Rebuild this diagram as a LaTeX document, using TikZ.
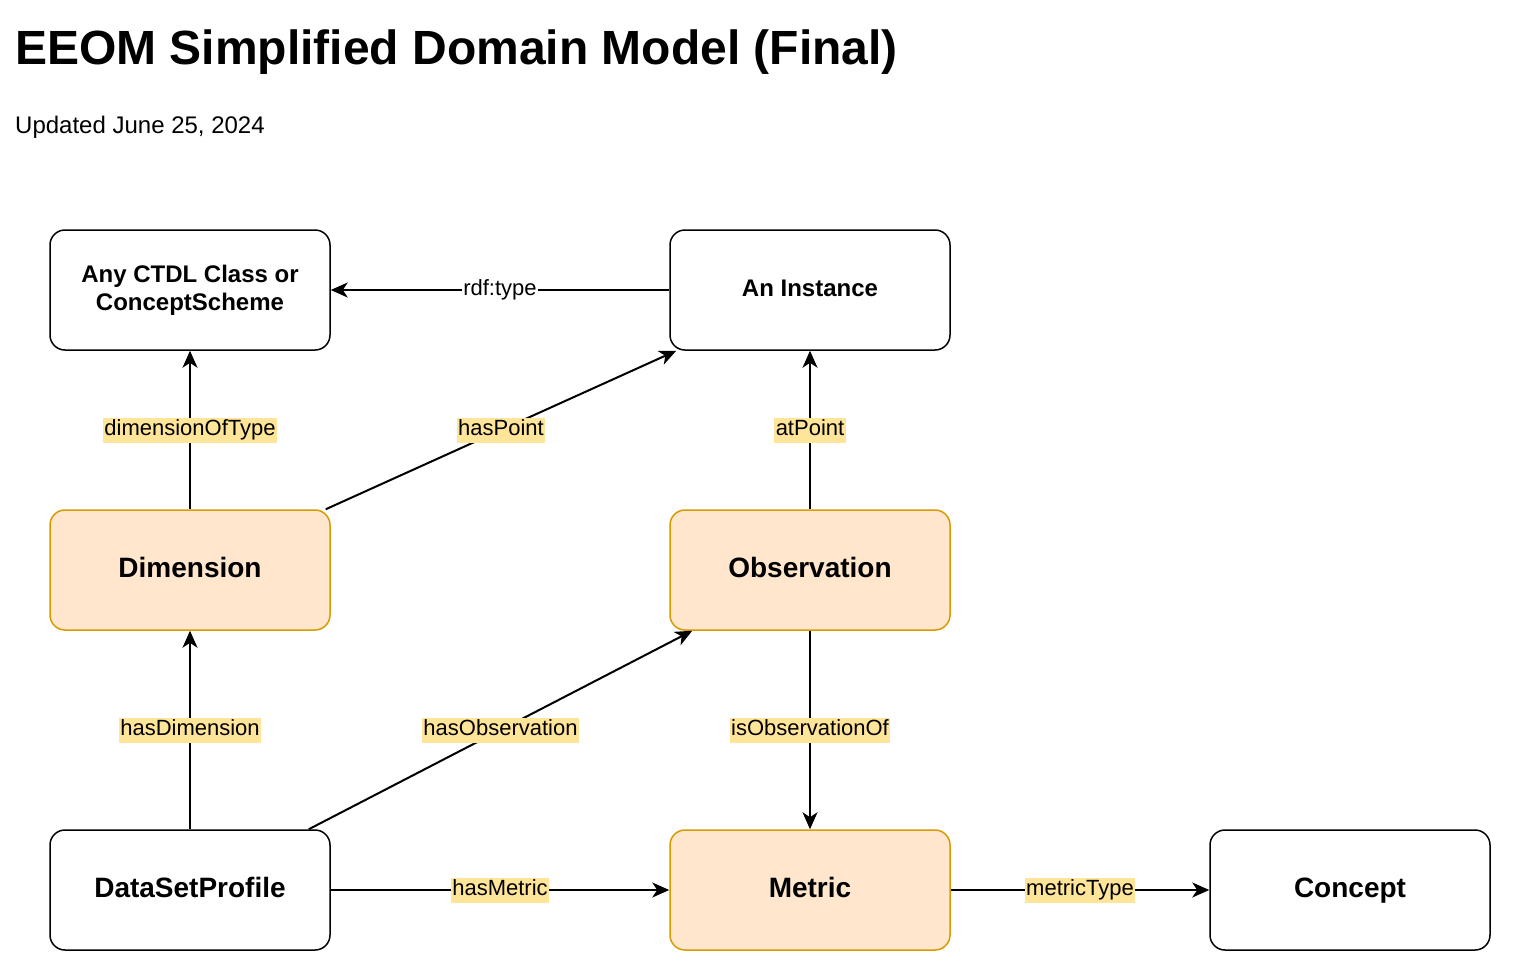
\documentclass[tikz,border=0pt]{standalone}
\usepackage{fontspec}
\setmainfont{Liberation Sans}
\usetikzlibrary{arrows.meta,calc}
\definecolor{orfill}{HTML}{FFE6CC}
\definecolor{ordraw}{HTML}{D79B00}
\definecolor{lblbg}{HTML}{FFE599}
\tikzset{
  box/.style={draw=black, line width=1.5pt, rounded corners=15pt, fill=white,
    minimum width=280pt, minimum height=120pt, inner sep=0pt, align=center,
    text height=21pt, text depth=7pt,
    font=\fontsize{28}{33}\selectfont\bfseries},
  smallbox/.style={box, text height=18pt, text depth=6pt, font=\fontsize{24}{28}\selectfont\bfseries},
  twoline/.style={smallbox, text height=, text depth=},
  orbox/.style={box, draw=ordraw, fill=orfill},
  conn/.style={line width=2pt, -{Stealth[length=17pt,width=15pt,inset=5pt]}},
  lbl/.style={fill=lblbg, inner sep=1.5pt, text height=16.5pt, text depth=5.5pt,
    font=\fontsize{22}{25}\selectfont, text=black},
  wlbl/.style={lbl, fill=white}
}
\begin{document}
\begin{tikzpicture}[x=1pt,y=-1pt]
\useasboundingbox (0,0) rectangle (1520,962);
\node[anchor=base west, inner sep=0pt, font=\fontsize{48}{54}\selectfont\bfseries] (title) at (15,64) {EEOM Simplified Domain Model (Final)};
\node[anchor=base west, inner sep=0pt, font=\fontsize{24}{28}\selectfont] (sub) at (15,133) {Updated June 25, 2024};

\node[twoline] (ctdl) at (190,290) {Any CTDL Class or\\ConceptScheme};
\node[smallbox] (inst) at (810,290) {An Instance};
\node[orbox] (dim) at (190,570) {Dimension};
\node[orbox] (obs) at (810,570) {Observation};
\node[box] (dsp) at (190,890) {DataSetProfile};
\node[orbox] (met) at (810,890) {Metric};
\node[box] (con) at (1350,890) {Concept};

\draw[conn] (inst.west) -- node[wlbl] {rdf:type} (ctdl.east);
\draw[conn] (dim.north) -- node[lbl] {dimensionOfType} (ctdl.south);
\draw[conn] ($(dim.north east)+(-5,0)$) -- node[lbl] {hasPoint} ($(inst.south west)+(7,0)$);
\draw[conn] (obs.north) -- node[lbl] {atPoint} (inst.south);
\draw[conn] (dsp.north) -- node[lbl] {hasDimension} (dim.south);
\draw[conn] ($(dsp.north east)+(-22,0)$) -- node[lbl] {hasObservation} ($(obs.south west)+(23,0)$);
\draw[conn] (obs.south) -- node[lbl] {isObservationOf} (met.north);
\draw[conn] (dsp.east) -- node[lbl] {hasMetric} (met.west);
\draw[conn] (met.east) -- node[lbl] {metricType} (con.west);
\end{tikzpicture}
\end{document}
